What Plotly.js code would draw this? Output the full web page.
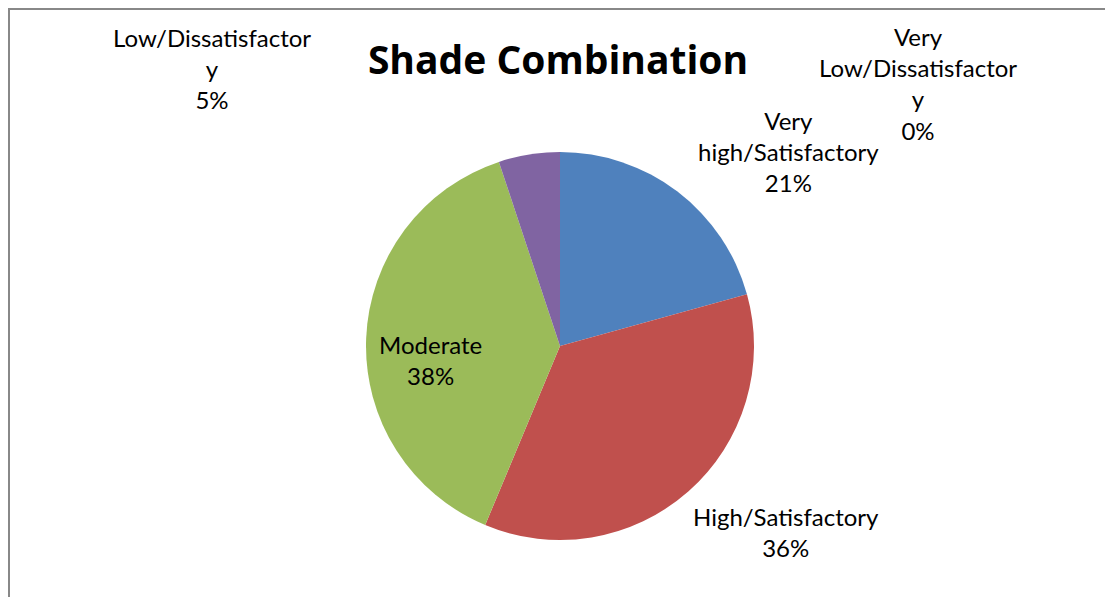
<!DOCTYPE html>
<html>
<head>
<meta charset="utf-8">
<script src="https://cdn.plot.ly/plotly-3.0.1.min.js"></script>
<style>html,body{margin:0;padding:0;background:#fff;}#chart{width:1105px;height:597px;}</style>
</head>
<body>
<div id="chart"></div>
<script>
const categories = ["Very high/Satisfactory", "High/Satisfactory", "Moderate", "Low/Dissatisfactory", "Very Low/Dissatisfactory"];
const values = [20.7, 35.6, 38.6, 5.1, 0];
const percentLabels = ["21%", "36%", "38%", "5%", "0%"];
const labelTexts = ["Very<br>high/Satisfactory", "High/Satisfactory", "Moderate", "Low/Dissatisfactor<br>y", "Very<br>Low/Dissatisfactor<br>y"];
const colors = ["#4F81BD", "#C0504D", "#9BBB59", "#8064A2", "#4BACC6"];
const titleText = "Shade Combination";

const W = 1105, H = 597;
const font = "Lato, 'Liberation Sans', sans-serif";
// label anchor positions (pixel centres) for each category
const labelPos = [[788, 151], [786, 532], [430, 360], [212, 69], [918, 84]];

const annotations = categories.map((c, i) => ({
  xref: "paper", yref: "paper",
  x: labelPos[i][0] / W, y: 1 - labelPos[i][1] / H,
  xanchor: "center", yanchor: "middle",
  text: labelTexts[i] + "<br>" + percentLabels[i],
  showarrow: false, align: "center",
  font: {family: font, size: 24, color: "#000"}
}));

const trace = {
  type: "pie",
  labels: categories,
  values: values,
  sort: false,
  direction: "clockwise",
  rotation: 0,
  textinfo: "none",
  hoverinfo: "label+percent",
  marker: {colors: colors, line: {width: 0}},
  domain: {x: [(560 - 194) / W, (560 + 194) / W], y: [1 - 540 / H, 1 - 152 / H]},
  showlegend: false
};

const layout = {
  width: W, height: H,
  margin: {l: 0, r: 0, t: 0, b: 0},
  paper_bgcolor: "#fff",
  showlegend: false,
  title: {text: "<b>" + titleText + "</b>", x: 558 / W, xanchor: "center", y: 1 - 60 / H, yanchor: "middle",
          font: {family: "'Open Sans', sans-serif", size: 39, color: "#000"}},
  annotations: annotations,
  shapes: [{type: "rect", xref: "paper", yref: "paper", x0: 9 / W, x1: 1.02, y0: -0.02, y1: 1 - 9 / H,
            line: {color: "#888888", width: 2}, fillcolor: "rgba(0,0,0,0)"}]
};

Plotly.newPlot("chart", [trace], layout, {displayModeBar: false, staticPlot: true});
</script>
</body>
</html>
